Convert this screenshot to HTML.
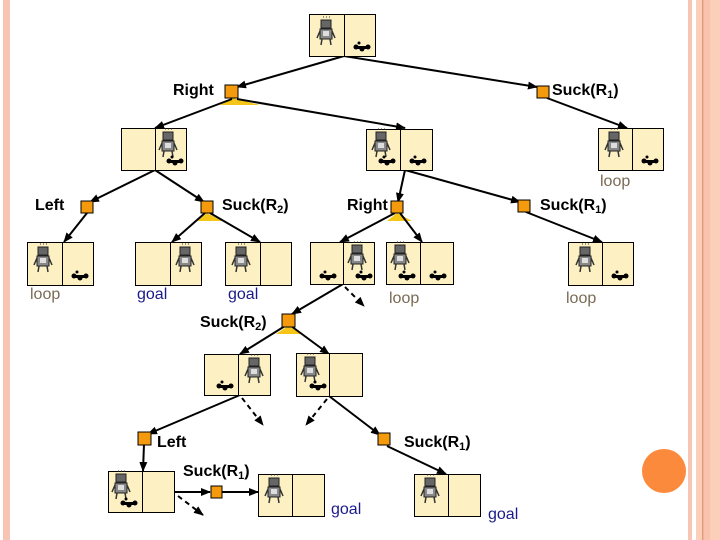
<!DOCTYPE html>
<html><head><style>
html,body{margin:0;padding:0;background:#fff;}
svg{display:block;}
text{font-family:"Liberation Sans",sans-serif;font-size:16px;}
.l{fill:#000;font-weight:bold;}
.loop{fill:#7a6a55;}
.goal{fill:#1a1a8a;}
</style></head><body>
<svg width="720" height="540" viewBox="0 0 720 540" xmlns="http://www.w3.org/2000/svg">
<defs>
<marker id="a" markerWidth="10" markerHeight="8" refX="9" refY="4" orient="auto" markerUnits="userSpaceOnUse"><path d="M0,0 L10,4 L0,8 z" fill="#000"/></marker>
<g id="rb">
<rect x="-5" y="-16" width="10" height="8" fill="#666" stroke="#222" stroke-width="1"/>
<rect x="-6" y="-7" width="12" height="10" fill="#888" stroke="#222" stroke-width="1"/>
<rect x="-3" y="-5" width="6" height="5" fill="#ddd"/>
<path d="M-4,3 L-5,9 M4,3 L5,9 M-6,-5 L-9,2 M6,-5 L9,2" stroke="#333" stroke-width="1.5"/>
<path d="M-3,-19 h1 M0,-19 h1 M3,-19 h1" stroke="#333"/>
</g>
<g id="dt">
<circle cx="-6" cy="0" r="2.5" fill="#000"/><circle cx="0" cy="2" r="2.5" fill="#000"/><circle cx="6" cy="0" r="2.5" fill="#000"/><circle cx="-3" cy="-4" r="1.5" fill="#000"/><rect x="-6" y="-1" width="12" height="3" fill="#000"/>
</g>
</defs>
<!-- borders -->
<rect x="3" y="0" width="7" height="540" fill="#f8c4b4"/>
<rect x="688" y="0" width="4" height="540" fill="#f8c4b4"/>
<rect x="696" y="0" width="24" height="540" fill="#fccfbb"/>
<rect x="702" y="0" width="1.5" height="540" fill="#e49a78"/>
<rect x="704" y="0" width="6" height="540" fill="#f9c2ac"/>
<circle cx="664" cy="471" r="22" fill="#fb8a3c"/>

<!-- yellow triangles -->
<g fill="#f5c518">
<polygon points="232,98 220,105 260,105"/>
<polygon points="207,213 197,221 222,221"/>
<polygon points="397,213 387,221 412,221"/>
<polygon points="288,326 276,334 302,334"/>
</g>

<!-- edges -->
<g stroke="#000" stroke-width="2" fill="none" marker-end="url(#a)">
<line x1="344" y1="56" x2="237" y2="87"/>
<line x1="344" y1="56" x2="537" y2="87"/>
<line x1="232" y1="99" x2="155" y2="128"/>
<line x1="237" y1="99" x2="405" y2="128"/>
<line x1="547" y1="98" x2="627" y2="128"/>
<line x1="155" y1="170" x2="90" y2="202"/>
<line x1="155" y1="170" x2="204" y2="202"/>
<line x1="87" y1="213" x2="64" y2="242"/>
<line x1="205" y1="213" x2="172" y2="242"/>
<line x1="210" y1="213" x2="260" y2="242"/>
<line x1="405" y1="170" x2="398" y2="202"/>
<line x1="405" y1="170" x2="520" y2="202"/>
<line x1="395" y1="213" x2="340" y2="242"/>
<line x1="400" y1="213" x2="422" y2="242"/>
<line x1="526" y1="212" x2="602" y2="242"/>
<line x1="343" y1="284" x2="292" y2="314"/>
<line x1="285" y1="326" x2="240" y2="354"/>
<line x1="291" y1="326" x2="329" y2="354"/>
<line x1="240" y1="395" x2="148" y2="434"/>
<line x1="329" y1="396" x2="380" y2="435"/>
<line x1="144" y1="444" x2="143" y2="471"/>
<line x1="174" y1="492" x2="210" y2="492"/>
<line x1="222" y1="492" x2="258" y2="492"/>
<line x1="387" y1="446" x2="446" y2="474"/>
</g>
<g stroke="#000" stroke-width="2" fill="none" stroke-dasharray="5,4" marker-end="url(#a)">
<line x1="345" y1="287" x2="364" y2="306"/>
<line x1="242" y1="398" x2="263" y2="425"/>
<line x1="327" y1="399" x2="306" y2="425"/>
<line x1="178" y1="496" x2="203" y2="515"/>
</g>

<!-- action squares -->
<g fill="#f59a0c" stroke="#000" stroke-width="1">
<rect x="225" y="85" width="13" height="13"/>
<rect x="537" y="86" width="12" height="12"/>
<rect x="81" y="201" width="12" height="12"/>
<rect x="201" y="201" width="12" height="12"/>
<rect x="391" y="201" width="12" height="12"/>
<rect x="518" y="200" width="12" height="12"/>
<rect x="282" y="314" width="13" height="13"/>
<rect x="138" y="432" width="13" height="13"/>
<rect x="378" y="433" width="12" height="12"/>
<rect x="211" y="486" width="11" height="12"/>
</g>

<!-- state boxes -->
<g fill="#fdf0c2" stroke="#000" stroke-width="1">
<rect x="309.5" y="14.5" width="66" height="42"/><line x1="344.5" y1="14" x2="344.5" y2="56"/>
<rect x="121.5" y="128.5" width="65" height="42"/><line x1="155.5" y1="128" x2="155.5" y2="170"/>
<rect x="366.5" y="129.5" width="66" height="41"/><line x1="400.5" y1="129" x2="400.5" y2="170"/>
<rect x="598.5" y="128.5" width="65" height="42"/><line x1="632.5" y1="128" x2="632.5" y2="170"/>
<rect x="27.5" y="242.5" width="66" height="43"/><line x1="62.5" y1="242" x2="62.5" y2="285"/>
<rect x="135.5" y="242.5" width="66" height="43"/><line x1="170.5" y1="242" x2="170.5" y2="285"/>
<rect x="225.5" y="242.5" width="66" height="43"/><line x1="260.5" y1="242" x2="260.5" y2="285"/>
<rect x="310.5" y="242.5" width="64" height="42"/><line x1="343.5" y1="242" x2="343.5" y2="284"/>
<rect x="386.5" y="242.5" width="67" height="42"/><line x1="420.5" y1="242" x2="420.5" y2="284"/>
<rect x="568.5" y="242.5" width="65" height="43"/><line x1="602.5" y1="242" x2="602.5" y2="285"/>
<rect x="204.5" y="354.5" width="66" height="41"/><line x1="238.5" y1="354" x2="238.5" y2="395"/>
<rect x="296.5" y="353.5" width="66" height="43"/><line x1="329.5" y1="353" x2="329.5" y2="396"/>
<rect x="108.5" y="471.5" width="66" height="41"/><line x1="142.5" y1="471" x2="142.5" y2="512"/>
<rect x="258.5" y="474.5" width="66" height="42"/><line x1="292.5" y1="474" x2="292.5" y2="516"/>
<rect x="414.5" y="474.5" width="66" height="42"/><line x1="448.5" y1="474" x2="448.5" y2="516"/>
</g>

<!-- robots and dirt -->
<use href="#rb" x="326" y="36"/><use href="#dt" x="362" y="47"/>
<use href="#rb" x="168" y="148"/><use href="#dt" x="175" y="161"/>
<use href="#rb" x="381" y="148"/><use href="#dt" x="387" y="161"/><use href="#dt" x="418" y="161"/>
<use href="#rb" x="614" y="148"/><use href="#dt" x="650" y="161"/>
<use href="#rb" x="43" y="263"/><use href="#dt" x="80" y="276"/>
<use href="#rb" x="185" y="263"/>
<use href="#rb" x="241" y="263"/>
<use href="#dt" x="328" y="276"/><use href="#rb" x="357" y="261"/><use href="#dt" x="364" y="276"/>
<use href="#rb" x="400" y="261"/><use href="#dt" x="407" y="276"/><use href="#dt" x="438" y="276"/>
<use href="#rb" x="585" y="263"/><use href="#dt" x="620" y="276"/>
<use href="#dt" x="225" y="386"/><use href="#rb" x="254" y="374"/>
<use href="#rb" x="310" y="373"/><use href="#dt" x="318" y="386"/>
<use href="#rb" x="121" y="490"/><use href="#dt" x="129" y="503"/>
<use href="#rb" x="274" y="494"/>
<use href="#rb" x="430" y="494"/>

<!-- labels -->
<text class="l" x="173" y="95">Right</text>
<text class="l" x="552" y="95">Suck(R<tspan font-size="11" dy="3">1</tspan><tspan dy="-3">)</tspan></text>
<text class="l" x="35" y="210">Left</text>
<text class="l" x="222" y="210">Suck(R<tspan font-size="11" dy="3">2</tspan><tspan dy="-3">)</tspan></text>
<text class="l" x="347" y="210">Right</text>
<text class="l" x="540" y="210">Suck(R<tspan font-size="11" dy="3">1</tspan><tspan dy="-3">)</tspan></text>
<text class="loop" x="600" y="186">loop</text>
<text class="loop" x="30" y="299">loop</text>
<text class="goal" x="137" y="299">goal</text>
<text class="goal" x="228" y="299">goal</text>
<text class="loop" x="389" y="303">loop</text>
<text class="loop" x="566" y="303">loop</text>
<text class="l" x="200" y="327">Suck(R<tspan font-size="11" dy="3">2</tspan><tspan dy="-3">)</tspan></text>
<text class="l" x="157" y="447">Left</text>
<text class="l" x="404" y="447">Suck(R<tspan font-size="11" dy="3">1</tspan><tspan dy="-3">)</tspan></text>
<text class="l" x="183" y="476">Suck(R<tspan font-size="11" dy="3">1</tspan><tspan dy="-3">)</tspan></text>
<text class="goal" x="331" y="514">goal</text>
<text class="goal" x="488" y="519">goal</text>
</svg>
</body></html>
